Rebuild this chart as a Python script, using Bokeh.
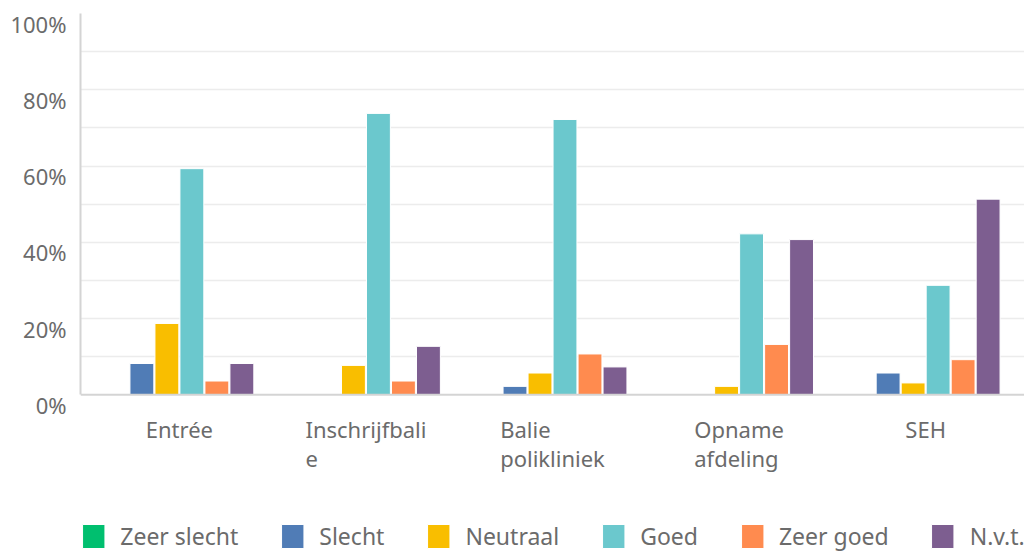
from bokeh.plotting import figure
from bokeh.models import (FactorRange, Range1d, FixedTicker, Legend, LegendItem,
                          ColumnDataSource, LinearAxis, Span)
from bokeh.core.properties import value
from bokeh.transform import dodge
from bokeh.embed import file_html
from bokeh.resources import INLINE

categories = ["Entrée", "Inschrijfbali\ne", "Balie\npolikliniek", "Opname\nafdeling", "SEH"]
series_names = ["Zeer slecht", "Slecht", "Neutraal", "Goed", "Zeer goed", "N.v.t."]
zeer_slecht = [0, 0, 0, 0, 0]
slecht = [8.2, 0, 2.2, 0, 5.7]
neutraal = [18.7, 7.7, 5.7, 2.2, 3.1]
goed = [59.3, 73.8, 72.2, 42.2, 28.7]
zeer_goed = [3.6, 3.6, 10.7, 13.2, 9.2]
nvt = [8.2, 12.7, 7.3, 40.7, 51.3]
series_colors = ["#00BF6F", "#507CB6", "#F9BE00", "#6BC8CD", "#FF8B4F", "#7D5E90"]
y_ticks = [0, 20, 40, 60, 80, 100]
y_tick_labels = ["0%", "20%", "40%", "60%", "80%", "100%"]
grid_ticks = [10, 20, 30, 40, 50, 60, 70, 80, 90]

series_values = [zeer_slecht, slecht, neutraal, goed, zeer_goed, nvt]
keys = ["s0", "s1", "s2", "s3", "s4", "s5"]
data = {"cat": categories}
for k, v in zip(keys, series_values):
    data[k] = v
source = ColumnDataSource(data)

FONT = "Noto Sans"
TEXT_COLOR = "#6b6b6b"
AXIS_COLOR = "#d4d4d4"

# frame runs down to the bottom of the page; baseline (0%) sits ~160px above it
y_low = -41.9
# y tick labels sit ~10px below their gridline in the reference
label_shift = 2.63

p = figure(
    x_range=FactorRange(*categories, range_padding=0.012),
    y_range=Range1d(y_low, 100),
    frame_width=944, frame_height=541,
    min_border_left=80, min_border_right=0, min_border_top=13, min_border_bottom=0,
    y_axis_location=None, x_axis_location=None,
    output_backend="svg", toolbar_location=None,
)
p.outline_line_color = None
p.background_fill_color = "white"
p.border_fill_color = "white"

# grid
p.xgrid.grid_line_color = None
p.ygrid.ticker = FixedTicker(ticks=grid_ticks)
p.ygrid.grid_line_color = "#ececec"
p.ygrid.grid_line_width = 1.5

step = 0.134
bar_w = 0.128
renderers = []
for i, (k, c) in enumerate(zip(keys, series_colors)):
    r = p.vbar(x=dodge("cat", (i - 2.5) * step, range=p.x_range), top=k, width=bar_w,
               source=source, fill_color=c, line_color="white", line_width=1)
    renderers.append(r)

# baseline
p.add_layout(Span(location=0, dimension="width", line_color=AXIS_COLOR, line_width=2))

# y axis with shifted label range
p.extra_y_ranges = {"lab": Range1d(y_low + label_shift, 100 + label_shift)}
yax = LinearAxis(y_range_name="lab", ticker=FixedTicker(ticks=y_ticks),
                 bounds=(label_shift, 100 + label_shift))
yax.major_label_overrides = {t: l for t, l in zip(y_ticks, y_tick_labels)}
yax.axis_line_color = AXIS_COLOR
yax.axis_line_width = 2
yax.major_tick_line_color = None
yax.minor_tick_line_color = None
yax.major_tick_out = 0
yax.major_tick_in = 0
yax.major_label_standoff = 14
yax.major_label_text_font = FONT
yax.major_label_text_font_size = "22px"
yax.major_label_text_color = TEXT_COLOR
p.add_layout(yax, "left")

# category labels (text blocks centred under each group, lines left-aligned)
p.text(x="cat", y=0, text="cat", source=source,
       anchor="top_center", text_align="left", y_offset=19,
       text_font=value(FONT), text_font_size="22px", text_color=TEXT_COLOR,
       text_line_height=0.98)

legend = Legend(
    items=[LegendItem(label=n, renderers=[r]) for n, r in zip(series_names, renderers)],
    location="bottom_center", orientation="horizontal",
    margin=2, padding=0, spacing=40,
    glyph_width=28, glyph_height=30, label_standoff=13,
    label_text_font=FONT, label_text_font_size="23px", label_text_color=TEXT_COLOR,
    border_line_color=None, background_fill_alpha=0,
)
p.add_layout(legend, "center")

open("out.html", "w").write(file_html(p, INLINE))
